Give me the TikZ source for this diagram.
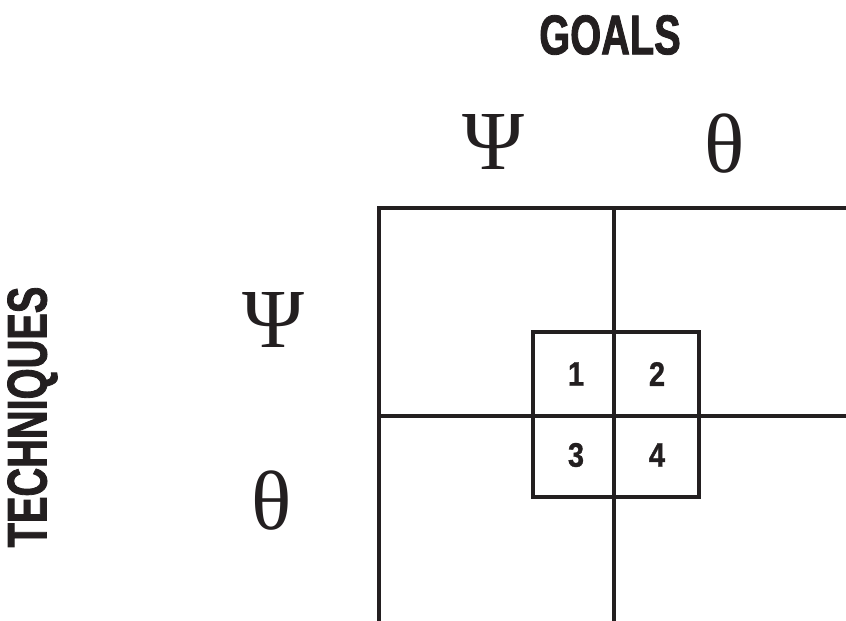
\documentclass[tikz,border=0pt]{standalone}
\usepackage{fontspec}
\setmainfont{Liberation Serif}
\newfontfamily\condbf{Liberation Sans}[FakeStretch=0.71,FakeBold=1.5,UprightFont=* Bold]
\newfontfamily\numbf{Liberation Sans}[FakeStretch=0.85,FakeBold=1,UprightFont=* Bold]
\definecolor{ink}{HTML}{231F20}

\begin{document}
\begin{tikzpicture}[x=1pt, y=-1pt,
  rule/.style={draw=ink, line width=4pt},
  head/.style={text=ink, inner sep=0pt, font=\condbf\fontsize{56}{56}\selectfont},
  greek/.style={text=ink, inner sep=0pt, font=\fontsize{84}{84}\selectfont},
  num/.style={text=ink, inner sep=0pt, font=\numbf\fontsize{34}{34}\selectfont}
]
\useasboundingbox (0,0) rectangle (846,621);

\coordinate (tl) at (379,207.5);
\coordinate (mx) at (614.3,207.5);
\coordinate (my) at (379,415.7);

\draw[rule] (846,207.5) -| (379,621);
\draw[rule] (mx) -- (mx |- 0,621);
\draw[rule] (my) -- (846,415.7);
\draw[rule] (533.3,331.7) rectangle (699.3,496.7);

\node[head] (goals) at (610,35) {GOALS};
\node[head, rotate=90] (techniques) at (32.5,417) {TECHNIQUES};

\node[greek] (gpsi) at (493,142) {Ψ};
\node[greek] (gtheta) at (725,143.5) {θ};
\node[greek] (tpsi) at (273,320) {Ψ};
\node[greek] (ttheta) at (272,501) {θ};

\node[num] (n1) at (576,374) {1};
\node[num] (n2) at (657,374) {2};
\node[num] (n3) at (576,455) {3};
\node[num] (n4) at (657,455) {4};
\end{tikzpicture}
\end{document}
